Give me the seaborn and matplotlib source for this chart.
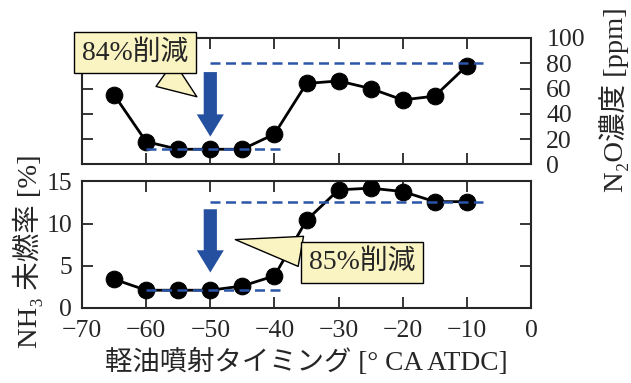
import matplotlib
matplotlib.use("Agg")
import matplotlib.pyplot as plt
import seaborn as sns

# fuel injection timing [deg CA ATDC]
timing = [-65, -60, -55, -50, -45, -40, -35, -30, -25, -20, -15, -10]
n2o = [55, 18, 12, 12, 12, 24, 64, 66, 60, 51, 54, 78]          # ppm
nh3 = [3.4, 2.1, 2.1, 2.1, 2.6, 3.8, 10.4, 14.0, 14.2, 13.8, 12.6, 12.6]  # %

# reference levels (low / high) and their x spans
n2o_levels = [12, 80]
nh3_levels = [2.1, 12.6]
level_spans = [(-60, -38.5), (-50, -7.5)]

# arrow (start, end) at x = -50
arrow_x = -50
n2o_arrow = (73, 22)
nh3_arrow = (11.7, 4.2)

callout_text = ["84%削減", "85%削減"]
callout_tip = [(-52.1, 53.5), (-46.1, 8.1)]
callout_pos = [(-61.7, 88.2), (-26.3, 5.4)]

sns.set_style("ticks")
plt.rcParams['font.family'] = ['Liberation Serif', 'Noto Sans CJK JP']

blue = '#2550a0'
dash_blue = '#2b55a8'
yellow = '#faf4c2'

fig, (ax1, ax2) = plt.subplots(2, 1, figsize=(6.31, 3.83), dpi=100, sharex=True)
fig.subplots_adjust(left=0.13, right=0.8415, bottom=0.196, top=0.901, hspace=0.134)

for ax, vals, levels in [(ax1, n2o, n2o_levels), (ax2, nh3, nh3_levels)]:
    sns.lineplot(x=timing, y=vals, ax=ax, color='k', marker='o', markersize=12,
                 markeredgecolor='k', linewidth=2, zorder=3)
    for lev, (x0, x1) in zip(levels, level_spans):
        ax.plot([x0, x1], [lev, lev], color=dash_blue, lw=1.8, ls=(0, (4, 2.2)), zorder=4)
    for s in ax.spines.values():
        s.set_linewidth(1.5)
        s.set_visible(True)
    ax.tick_params(direction='in', length=8, width=1.3, top=True, right=True,
                   labelsize=18.5, pad=7)

ax1.set_ylim(0, 100)
ax1.set_yticks([0, 20, 40, 60, 80, 100])
ax1.tick_params(labelleft=False, labelright=True, labelbottom=False)
ax1.tick_params(axis='y', pad=11)
ax1.yaxis.set_label_position('right')
ax1.set_ylabel('N₂O濃度 [ppm]', fontsize=20.5)
ax1.yaxis.set_label_coords(1.152, 0.51)

ax2.set_ylim(0, 15)
ax2.set_yticks([0, 5, 10, 15])
ax2.set_xlim(-70, 0)
ax2.set_xticks(range(-70, 1, 10))
ax2.tick_params(axis='x', pad=9)
ax2.set_ylabel('NH₃ 未燃率 [%]', fontsize=20.5)
ax2.yaxis.set_label_coords(-0.088, 0.45)
ax2.set_xlabel('軽油噴射タイミング [° CA ATDC]', fontsize=19.7, labelpad=5)

for ax, (y0, y1) in [(ax1, n2o_arrow), (ax2, nh3_arrow)]:
    ax.annotate('', xy=(arrow_x, y1), xytext=(arrow_x, y0),
                arrowprops=dict(arrowstyle='simple,head_length=16,head_width=19.5,tail_width=9.5',
                                mutation_scale=1, fc=blue, ec='none',
                                shrinkA=0, shrinkB=0), zorder=6)

for ax, txt, tip, pos in zip([ax1, ax2], callout_text, callout_tip, callout_pos):
    ax.annotate(txt, xy=tip, xytext=pos, ha='center', va='center', fontsize=20,
                annotation_clip=False, zorder=10,
                bbox=dict(boxstyle='square,pad=0.28', fc=yellow, ec='k', lw=1),
                arrowprops=dict(arrowstyle='wedge,tail_width=1.1,shrink_factor=0.5',
                                mutation_scale=20, fc=yellow, ec='k', lw=1,
                                shrinkA=0, shrinkB=0))

fig.savefig('out.png', dpi=100)
